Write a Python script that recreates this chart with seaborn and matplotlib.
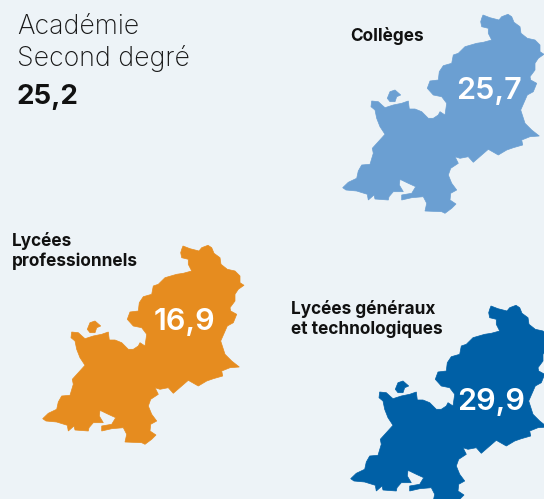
import matplotlib
matplotlib.use('Agg')
import matplotlib.pyplot as plt
import seaborn as sns

# categories and values
categories = ['Collèges', 'Lycées\nprofessionnels', 'Lycées généraux\net technologiques']
values = [25.7, 16.9, 29.9]
academy_title = 'Académie\nSecond degré'
academy_value = 25.2

# academy outline (first map position)
outline_x = [481.7, 483, 490, 499, 501.7, 508, 511.7, 514, 520, 521, 527.3, 535, 540, 540, 544, 538.3, 535, 535, 530,
             530.7, 536.7, 533.3, 527.3, 520.7, 525, 531.7, 539.3, 530, 521.7, 522.7, 513.3, 506.7, 498.3, 488.3,
             481.7, 473.3, 468.3, 460, 455, 458.3, 450.7, 448.3, 451.7, 456.7, 450.7, 450, 456, 451.7, 445, 441.7,
             425, 426.7, 423.3, 411.7, 401.7, 401.7, 411.7, 415.7, 408.3, 400, 399.3, 403.3, 393.3, 389, 388.3, 375,
             374, 368.3, 367.3, 356.7, 346, 342.7, 348.3, 356.7, 358.3, 361.7, 370, 373.3, 372.3, 378.3, 385, 380,
             376.7, 375, 371, 371.7, 378.3, 382.7, 385, 393.3, 401.7, 408.3, 409.3, 415, 421.7, 428.3, 433.3, 438.3,
             440, 445, 446.7, 441.7, 433.3, 427.3, 430, 438.3, 439.3, 443.3, 451.7, 453.3, 458.3, 465, 476.7, 483.3,
             491.7, 488.3, 488.3, 481.7, 480.7]
outline_y = [18.3, 15, 17.7, 20, 16.7, 14.3, 16.7, 22.3, 26.7, 33.3, 38.3, 40, 45, 51.7, 54.3, 58.3, 63.3, 70, 76.7,
             80, 83.3, 91.7, 95, 110, 123.3, 130, 136, 136.7, 140, 145, 147.7, 150, 155, 149.3,
             155, 162.3, 156.7, 158.3, 156.7, 163.3, 168.3, 175, 183.3, 190, 193.3, 200, 204, 208.3, 213.3, 211.7,
             211, 203.3, 196.7, 197.7, 200, 195, 193.3, 186.7, 183.3, 179.3, 185, 191.7, 191.7, 196.7, 200, 199,
             195, 200, 194.3, 191, 190, 187.7, 182.3, 178.3, 171, 165, 164.3, 153.3, 148.3, 141.7, 134.3, 126.7,
             118.3, 110, 106.7, 101, 101.7, 105.7, 107.7, 105, 103.3, 101, 109, 109, 111.7, 118.3, 118.3, 115,
             111.7, 115, 103.3, 96.7, 95, 88.3, 81, 80, 71.7, 65.7, 63.3, 55, 53.3, 46.7, 43.3, 42.3,
             40, 33.3, 28.3, 26.7, 21.7]
island_x = [387.3, 390, 395, 400.7, 396.7, 395, 390]
island_y = [98.3, 91.7, 90, 95, 96.7, 101.7, 101.7]

colors = ['#6b9fd2', '#e68c1f', '#0060a6']
bg = '#edf3f7'

sns.set_style('white')
plt.rcParams['font.family'] = ['Inter', 'DejaVu Sans']

fig = plt.figure(figsize=(5.44, 4.99), dpi=100, facecolor=bg)
ax = fig.add_axes([0, 0, 1, 1], facecolor=bg)
ax.set_xlim(0, 544)
ax.set_ylim(499, 0)
ax.axis('off')

# shift of each map from the traced one
map_shift = [(0, 0), (-300, 231), (8, 291)]
value_pos = [(488.5, 91), (184.5, 322), (491.5, 402)]
label_pos = [(350, 36), (12, 251), (291, 319)]


def fr(v):
    return f'{v:.1f}'.replace('.', ',')


for cat, val, col, ms, vp, lp in zip(categories, values, colors, map_shift, value_pos, label_pos):
    ax.fill([x + ms[0] for x in outline_x], [y + ms[1] for y in outline_y], color=col, lw=0.5)
    ax.fill([x + ms[0] for x in island_x], [y + ms[1] for y in island_y], color=col, lw=0.5)
    ax.text(vp[0], vp[1], fr(val), color='white', fontsize=22, fontweight='semibold', ha='center', va='center')
    ax.text(lp[0], lp[1], cat, color='#111111', fontsize=12.4, fontweight='bold', ha='left', va='center', linespacing=1.25)

ax.text(17, 43, academy_title, color='#161616', fontsize=19.2, fontweight='light', ha='left', va='center', linespacing=1.25)
ax.text(17, 97, fr(academy_value), color='#111111', fontsize=20, fontweight='bold', ha='left', va='center')

fig.savefig('out.png', dpi=100, facecolor=bg)
